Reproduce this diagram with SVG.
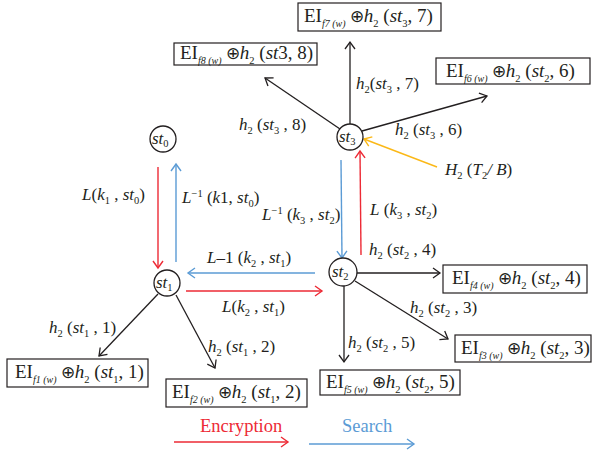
<svg xmlns="http://www.w3.org/2000/svg" width="594" height="456" viewBox="0 0 594 456">
<style>
.t{font-family:"Liberation Serif","Times New Roman",serif;font-size:17px;fill:#231f20}
.bt{font-size:19px}
.i{font-style:italic}
.s{font-size:10.5px}
.sf{font-size:10px;font-style:italic}
.o{font-size:17px;font-weight:normal}
.box{fill:#fff;stroke:#231f20;stroke-width:1.2}
.node{fill:#fff;stroke:#231f20;stroke-width:1.3}
.k{stroke:#231f20;stroke-width:1.3;fill:none}
.r{stroke:#ed2a35;stroke-width:1.4;fill:none}
.b{stroke:#5b9bd5;stroke-width:1.4;fill:none}
.y{stroke:#fbb817;stroke-width:1.4;fill:none}
</style>
<defs>
<marker id="ak" markerWidth="10" markerHeight="12" refX="8" refY="6" orient="auto" markerUnits="userSpaceOnUse"><path d="M1,1 L8,6 L1,11" fill="none" stroke="#231f20" stroke-width="1.3"/></marker>
<marker id="ar" markerWidth="10" markerHeight="12" refX="8" refY="6" orient="auto" markerUnits="userSpaceOnUse"><path d="M1,1 L8,6 L1,11" fill="none" stroke="#ed2a35" stroke-width="1.4"/></marker>
<marker id="ab" markerWidth="10" markerHeight="12" refX="8" refY="6" orient="auto" markerUnits="userSpaceOnUse"><path d="M1,1 L8,6 L1,11" fill="none" stroke="#5b9bd5" stroke-width="1.4"/></marker>
<marker id="ay" markerWidth="10" markerHeight="12" refX="8" refY="6" orient="auto" markerUnits="userSpaceOnUse"><path d="M1,1 L8,6 L1,11" fill="none" stroke="#fbb817" stroke-width="1.4"/></marker>
</defs>
<rect width="594" height="456" fill="#fff"/>
<g id="connectors">
<line class="k" x1="350" y1="124" x2="350" y2="42" marker-end="url(#ak)"/>
<line class="k" x1="340" y1="129" x2="265" y2="78" marker-end="url(#ak)"/>
<line class="k" x1="362" y1="131" x2="487" y2="96" marker-end="url(#ak)"/>
<line class="y" x1="437" y1="167" x2="364" y2="139" marker-end="url(#ay)"/>
<line class="r" x1="158" y1="167" x2="158" y2="268" marker-end="url(#ar)"/>
<line class="b" x1="176" y1="262" x2="176" y2="164" marker-end="url(#ab)"/>
<line class="b" x1="315" y1="273" x2="188" y2="273" marker-end="url(#ab)"/>
<line class="r" x1="186" y1="291" x2="322" y2="291" marker-end="url(#ar)"/>
<line class="b" x1="341" y1="160" x2="342" y2="258" marker-end="url(#ab)"/>
<line class="r" x1="361" y1="255" x2="360" y2="151" marker-end="url(#ar)"/>
<line class="k" x1="357" y1="273" x2="440" y2="273" marker-end="url(#ak)"/>
<line class="k" x1="355" y1="281" x2="448" y2="339" marker-end="url(#ak)"/>
<line class="k" x1="344" y1="286" x2="344" y2="362" marker-end="url(#ak)"/>
<line class="k" x1="158" y1="294" x2="99" y2="356" marker-end="url(#ak)"/>
<line class="k" x1="176" y1="295" x2="215" y2="368" marker-end="url(#ak)"/>
</g>
<g id="st0"><circle class="node" cx="163" cy="139" r="13"/><text class="t i" x="152" y="144">st<tspan class="s" style="font-style:normal" dy="3">0</tspan></text></g>
<g id="st3"><circle class="node" cx="350" cy="137" r="13"/><text class="t i" x="339" y="142">st<tspan class="s" style="font-style:normal" dy="3">3</tspan></text></g>
<g id="st1"><circle class="node" cx="167" cy="283" r="13"/><text class="t i" x="156" y="288">st<tspan class="s" style="font-style:normal" dy="3">1</tspan></text></g>
<g id="st2"><circle class="node" cx="343" cy="272" r="14"/><text class="t i" x="332" y="277">st<tspan class="s" style="font-style:normal" dy="3">2</tspan></text></g>

<g id="box-f7"><rect class="box" x="298" y="3" width="143" height="28"/><text class="t bt" x="304" y="22">EI<tspan class="sf" dy="5">f7 (w)</tspan><tspan class="o" dy="-5"> ⊕</tspan><tspan class="i">h</tspan><tspan class="s" dy="5">2</tspan><tspan dy="-5"> (</tspan><tspan class="i">st</tspan><tspan class="s" dy="5">3</tspan><tspan dy="-5">, 7)</tspan></text></g>
<g id="box-f8"><rect class="box" x="174" y="43" width="143" height="22"/><text class="t bt" x="180" y="59">EI<tspan class="sf" dy="5">f8 (w)</tspan><tspan class="o" dy="-5"> ⊕</tspan><tspan class="i">h</tspan><tspan class="s" dy="5">2</tspan><tspan dy="-5"> (</tspan><tspan class="i">st</tspan><tspan>3, 8)</tspan></text></g>
<g id="box-f6"><rect class="box" x="436" y="58" width="154" height="26"/><text class="t bt" x="446" y="77">EI<tspan class="sf" dy="5">f6 (w)</tspan><tspan class="o" dy="-5"> ⊕</tspan><tspan class="i">h</tspan><tspan class="s" dy="5">2</tspan><tspan dy="-5"> (</tspan><tspan class="i">st</tspan><tspan class="s" dy="5">2</tspan><tspan dy="-5">, 6)</tspan></text></g>
<g id="box-f4"><rect class="box" x="443" y="265" width="144" height="28"/><text class="t bt" x="452" y="284">EI<tspan class="sf" dy="5">f4 (w)</tspan><tspan class="o" dy="-5"> ⊕</tspan><tspan class="i">h</tspan><tspan class="s" dy="5">2</tspan><tspan dy="-5"> (</tspan><tspan class="i">st</tspan><tspan class="s" dy="5">2</tspan><tspan dy="-5">, 4)</tspan></text></g>
<g id="box-f3"><rect class="box" x="455" y="335" width="136" height="27"/><text class="t bt" x="461" y="354">EI<tspan class="sf" dy="5">f3 (w)</tspan><tspan class="o" dy="-5"> ⊕</tspan><tspan class="i">h</tspan><tspan class="s" dy="5">2</tspan><tspan dy="-5"> (</tspan><tspan class="i">st</tspan><tspan class="s" dy="5">2</tspan><tspan dy="-5">, 3)</tspan></text></g>
<g id="box-f5"><rect class="box" x="320" y="370" width="140" height="25"/><text class="t bt" x="326" y="388">EI<tspan class="sf" dy="5">f5 (w)</tspan><tspan class="o" dy="-5"> ⊕</tspan><tspan class="i">h</tspan><tspan class="s" dy="5">2</tspan><tspan dy="-5"> (</tspan><tspan class="i">st</tspan><tspan class="s" dy="5">2</tspan><tspan dy="-5">, 5)</tspan></text></g>
<g id="box-f1"><rect class="box" x="7" y="359" width="141" height="28"/><text class="t bt" x="15" y="378">EI<tspan class="sf" dy="5">f1 (w)</tspan><tspan class="o" dy="-5"> ⊕</tspan><tspan class="i">h</tspan><tspan class="s" dy="5">2</tspan><tspan dy="-5"> (</tspan><tspan class="i">st</tspan><tspan class="s" dy="5">1</tspan><tspan dy="-5">, 1)</tspan></text></g>
<g id="box-f2"><rect class="box" x="166" y="379" width="141" height="28"/><text class="t bt" x="172" y="398">EI<tspan class="sf" dy="5">f2 (w)</tspan><tspan class="o" dy="-5"> ⊕</tspan><tspan class="i">h</tspan><tspan class="s" dy="5">2</tspan><tspan dy="-5"> (</tspan><tspan class="i">st</tspan><tspan class="s" dy="5">1</tspan><tspan dy="-5">, 2)</tspan></text></g>

<g id="labels">
<text class="t" x="356" y="89"><tspan class="i">h</tspan><tspan class="s" dy="4">2</tspan><tspan dy="-4">(</tspan><tspan class="i">st</tspan><tspan class="s" dy="4">3</tspan><tspan dy="-4"> , 7)</tspan></text>
<text class="t" x="239" y="130"><tspan class="i">h</tspan><tspan class="s" dy="4">2</tspan><tspan dy="-4"> (</tspan><tspan class="i">st</tspan><tspan class="s" dy="4">3</tspan><tspan dy="-4"> , 8)</tspan></text>
<text class="t" x="395" y="135"><tspan class="i">h</tspan><tspan class="s" dy="4">2</tspan><tspan dy="-4"> (</tspan><tspan class="i">st</tspan><tspan class="s" dy="4">3</tspan><tspan dy="-4"> , 6)</tspan></text>
<text class="t" x="445" y="175"><tspan class="i">H</tspan><tspan class="s" dy="4">2</tspan><tspan dy="-4"> (</tspan><tspan class="i">T</tspan><tspan class="s" dy="4">2</tspan><tspan dy="-4" class="i">/ B</tspan><tspan>)</tspan></text>
<text class="t" x="370" y="215"><tspan class="i">L</tspan><tspan> (</tspan><tspan class="i">k</tspan><tspan class="s" dy="4">3</tspan><tspan dy="-4"> , </tspan><tspan class="i">st</tspan><tspan class="s" dy="4">2</tspan><tspan dy="-4">)</tspan></text>
<text class="t" x="82" y="200"><tspan class="i">L</tspan><tspan>(</tspan><tspan class="i">k</tspan><tspan class="s" dy="4">1</tspan><tspan dy="-4"> , </tspan><tspan class="i">st</tspan><tspan class="s" dy="4">0</tspan><tspan dy="-4">)</tspan></text>
<text class="t" x="182" y="203"><tspan class="i">L</tspan><tspan class="s" dy="-6">−1</tspan><tspan dy="6"> (</tspan><tspan class="i">k</tspan><tspan>1, </tspan><tspan class="i">st</tspan><tspan class="s" dy="4">0</tspan><tspan dy="-4">)</tspan></text>
<text class="t" x="262" y="220"><tspan class="i">L</tspan><tspan class="s" dy="-6">−1</tspan><tspan dy="6"> (</tspan><tspan class="i">k</tspan><tspan class="s" dy="4">3</tspan><tspan dy="-4"> , </tspan><tspan class="i">st</tspan><tspan class="s" dy="4">2</tspan><tspan dy="-4">)</tspan></text>
<text class="t" x="207" y="263"><tspan class="i">L</tspan><tspan>–1 (</tspan><tspan class="i">k</tspan><tspan class="s" dy="4">2</tspan><tspan dy="-4"> , </tspan><tspan class="i">st</tspan><tspan class="s" dy="4">1</tspan><tspan dy="-4">)</tspan></text>
<text class="t" x="222" y="312"><tspan class="i">L</tspan><tspan>(</tspan><tspan class="i">k</tspan><tspan class="s" dy="4">2</tspan><tspan dy="-4"> , </tspan><tspan class="i">st</tspan><tspan class="s" dy="4">1</tspan><tspan dy="-4">)</tspan></text>
<text class="t" x="369" y="255"><tspan class="i">h</tspan><tspan class="s" dy="4">2</tspan><tspan dy="-4"> (</tspan><tspan class="i">st</tspan><tspan class="s" dy="4">2</tspan><tspan dy="-4"> , 4)</tspan></text>
<text class="t" x="410" y="313"><tspan class="i">h</tspan><tspan class="s" dy="4">2</tspan><tspan dy="-4"> (</tspan><tspan class="i">st</tspan><tspan class="s" dy="4">2</tspan><tspan dy="-4"> , 3)</tspan></text>
<text class="t" x="348" y="348"><tspan class="i">h</tspan><tspan class="s" dy="4">2</tspan><tspan dy="-4"> (</tspan><tspan class="i">st</tspan><tspan class="s" dy="4">2</tspan><tspan dy="-4"> , 5)</tspan></text>
<text class="t" x="49" y="333"><tspan class="i">h</tspan><tspan class="s" dy="4">2</tspan><tspan dy="-4"> (</tspan><tspan class="i">st</tspan><tspan class="s" dy="4">1</tspan><tspan dy="-4"> , 1)</tspan></text>
<text class="t" x="208" y="352"><tspan class="i">h</tspan><tspan class="s" dy="4">2</tspan><tspan dy="-4"> (</tspan><tspan class="i">st</tspan><tspan class="s" dy="4">1</tspan><tspan dy="-4"> , 2)</tspan></text>
</g>
<g id="legend">
<text class="t" x="200" y="432" style="fill:#ed2a35;font-size:18.5px">Encryption</text>
<line class="r" x1="174" y1="442" x2="288" y2="442" marker-end="url(#ar)"/>
<text class="t" x="342" y="432" style="fill:#5b9bd5;font-size:18.5px">Search</text>
<line class="b" x1="309" y1="444" x2="414" y2="444" marker-end="url(#ab)"/>
</g>
</svg>
